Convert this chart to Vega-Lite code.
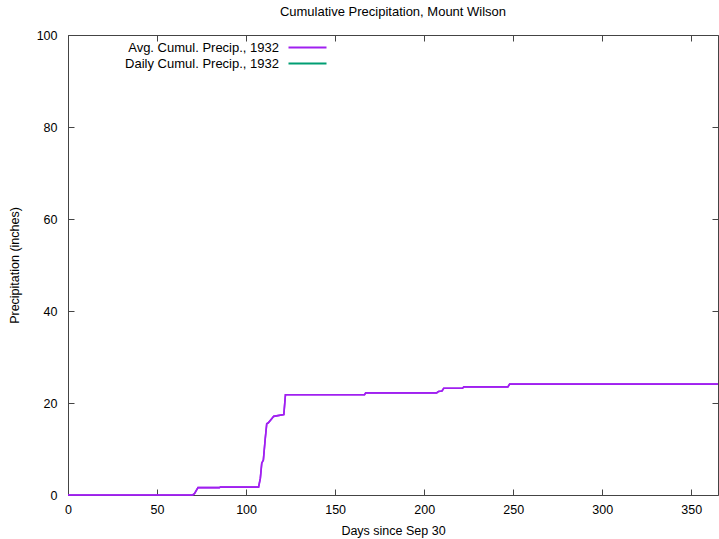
{
  "$schema": "https://vega.github.io/schema/vega-lite/v6.json",
  "autosize": "none",
  "width": 650,
  "height": 460,
  "padding": {"left": 68, "top": 35, "right": 1, "bottom": 44},
  "background": "white",
  "title": {"text": "Cumulative Precipitation, Mount Wilson", "font": "Liberation Sans", "fontSize": 13, "fontWeight": "normal", "color": "#000", "offset": 10},
  "config": {
    "view": {"stroke": "#444", "strokeWidth": 1},
    "axis": {"grid": false, "domain": false, "tickColor": "#444", "tickSize": -6, "labelFlush": false, "labelFont": "Liberation Sans", "labelFontSize": 12.5, "labelColor": "#000", "titleFont": "Liberation Sans", "titleFontSize": 12.5, "titleFontWeight": "normal", "titleColor": "#000"},
    "legend": {"labelFont": "Liberation Sans", "labelFontSize": 13, "labelColor": "#000"}
  },
  "data": {"values": [
    {"day": 0, "precip": 0, "series": "Avg. Cumul. Precip., 1932"},
    {"day": 70, "precip": 0, "series": "Avg. Cumul. Precip., 1932"},
    {"day": 71, "precip": 0.3, "series": "Avg. Cumul. Precip., 1932"},
    {"day": 73, "precip": 1.6, "series": "Avg. Cumul. Precip., 1932"},
    {"day": 85, "precip": 1.6, "series": "Avg. Cumul. Precip., 1932"},
    {"day": 85.5, "precip": 1.72, "series": "Avg. Cumul. Precip., 1932"},
    {"day": 107, "precip": 1.72, "series": "Avg. Cumul. Precip., 1932"},
    {"day": 108, "precip": 3.6, "series": "Avg. Cumul. Precip., 1932"},
    {"day": 108.8, "precip": 6.9, "series": "Avg. Cumul. Precip., 1932"},
    {"day": 109.7, "precip": 7.6, "series": "Avg. Cumul. Precip., 1932"},
    {"day": 110.7, "precip": 12, "series": "Avg. Cumul. Precip., 1932"},
    {"day": 111.6, "precip": 15.5, "series": "Avg. Cumul. Precip., 1932"},
    {"day": 112.5, "precip": 15.7, "series": "Avg. Cumul. Precip., 1932"},
    {"day": 114.4, "precip": 16.6, "series": "Avg. Cumul. Precip., 1932"},
    {"day": 115.5, "precip": 17.1, "series": "Avg. Cumul. Precip., 1932"},
    {"day": 121.2, "precip": 17.5, "series": "Avg. Cumul. Precip., 1932"},
    {"day": 122.1, "precip": 21.8, "series": "Avg. Cumul. Precip., 1932"},
    {"day": 166.5, "precip": 21.8, "series": "Avg. Cumul. Precip., 1932"},
    {"day": 167.2, "precip": 22.2, "series": "Avg. Cumul. Precip., 1932"},
    {"day": 207, "precip": 22.2, "series": "Avg. Cumul. Precip., 1932"},
    {"day": 208, "precip": 22.5, "series": "Avg. Cumul. Precip., 1932"},
    {"day": 210, "precip": 22.6, "series": "Avg. Cumul. Precip., 1932"},
    {"day": 211, "precip": 23.2, "series": "Avg. Cumul. Precip., 1932"},
    {"day": 221.5, "precip": 23.2, "series": "Avg. Cumul. Precip., 1932"},
    {"day": 222.3, "precip": 23.5, "series": "Avg. Cumul. Precip., 1932"},
    {"day": 247, "precip": 23.5, "series": "Avg. Cumul. Precip., 1932"},
    {"day": 248, "precip": 24.1, "series": "Avg. Cumul. Precip., 1932"},
    {"day": 365, "precip": 24.1, "series": "Avg. Cumul. Precip., 1932"}
  ]},
  "layer": [
    {
      "mark": {"type": "line", "strokeWidth": 1.6},
      "encoding": {
        "x": {"field": "day", "type": "quantitative", "scale": {"domain": [0, 365], "nice": false}, "axis": {"values": [0, 50, 100, 150, 200, 250, 300, 350], "labelPadding": 14, "title": "Days since Sep 30", "titlePadding": 9}},
        "y": {"field": "precip", "type": "quantitative", "scale": {"domain": [0, 100], "nice": false}, "axis": {"values": [0, 20, 40, 60, 80, 100], "labelPadding": 17, "title": "Precipitation (inches)", "titlePadding": 15}},
        "color": {"field": "series", "type": "nominal", "scale": {"domain": ["Avg. Cumul. Precip., 1932", "Daily Cumul. Precip., 1932"], "range": ["#a020f0", "#009e73"]},
          "legend": {"title": null, "orient": "none", "legendX": 233, "legendY": 6, "padding": 0, "symbolType": "M-3.8,0H3.8", "symbolSize": 100, "symbolStrokeWidth": 2, "labelAlign": "right", "labelOffset": -35, "rowPadding": 2, "labelLimit": 400}}
      }
    },
    {
      "mark": {"type": "line", "strokeWidth": 1.6},
      "encoding": {
        "x": {"field": "day", "type": "quantitative", "axis": {"orient": "top", "values": [0, 50, 100, 150, 200, 250, 300, 350], "labels": false, "title": null}},
        "y": {"field": "precip", "type": "quantitative", "axis": {"orient": "right", "values": [0, 20, 40, 60, 80, 100], "labels": false, "title": null}},
        "color": {"field": "series", "type": "nominal", "legend": null}
      }
    }
  ],
  "resolve": {"axis": {"x": "independent", "y": "independent"}}
}
